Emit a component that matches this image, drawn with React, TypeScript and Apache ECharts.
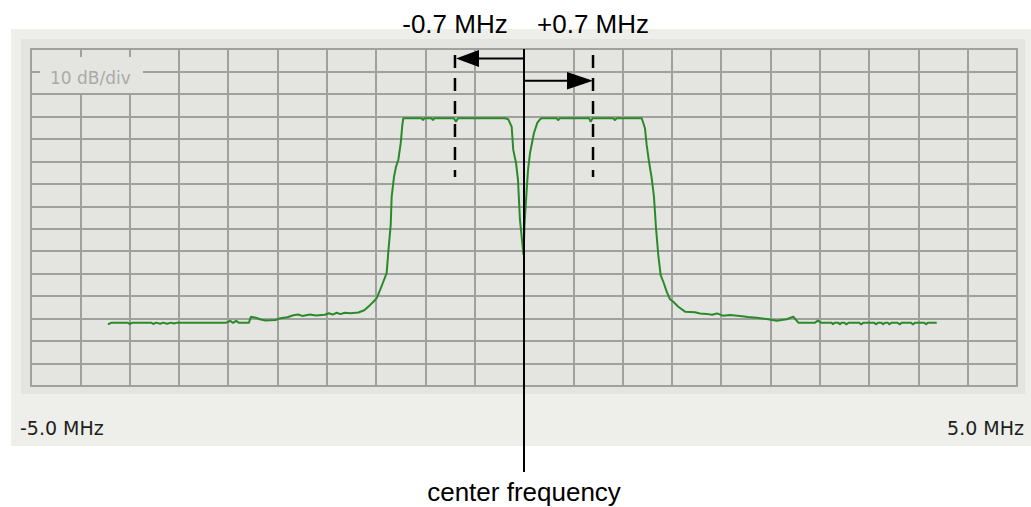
import React, { useEffect, useRef } from "react";
import * as echarts from "echarts";

// Spectrum trace (MHz offset from centre, dB)
const freqMHz = [
  -4.22, -4.18, -4.02, -4.0, -3.97, -3.78, -3.76, -3.73, -3.69, -3.66, -3.62, -3.58, -3.55, -3.52,
  -3.02, -2.98, -2.95, -2.92, -2.89, -2.79, -2.77, -2.72, -2.67, -2.62, -2.52, -2.47, -2.4, -2.34,
  -2.29, -2.25, -2.17, -2.11, -2.02, -1.98, -1.94, -1.9, -1.86, -1.82, -1.76, -1.68, -1.62, -1.56,
  -1.53, -1.494, -1.46, -1.427, -1.393, -1.376, -1.352, -1.342, -1.318, -1.298, -1.275, -1.25,
  -1.234, -1.224, -1.04, -1.024, -1.01, -0.94, -0.923, -0.91, -0.71, -0.69, -0.67, -0.45, -0.193,
  -0.159, -0.125, -0.109, -0.081, -0.061, -0.041, -0.013, -0.005, 0.005, 0.027, 0.041, 0.061, 0.101,
  0.135, 0.162, 0.183, 0.33, 0.348, 0.365, 0.66, 0.676, 0.695, 0.905, 0.923, 0.94, 1.194, 1.227,
  1.244, 1.268, 1.295, 1.318, 1.339, 1.362, 1.386, 1.413, 1.447, 1.481, 1.514, 1.565, 1.633, 1.734,
  1.785, 1.853, 1.907, 1.957, 2.018, 2.089, 2.191, 2.272, 2.36, 2.461, 2.563, 2.664, 2.731, 2.782,
  2.951, 2.982, 3.012, 3.12, 3.134, 3.15, 3.19, 3.202, 3.22, 3.25, 3.269, 3.29, 3.4, 3.421, 3.44,
  3.55, 3.573, 3.59, 3.625, 3.641, 3.66, 3.69, 3.708, 3.725, 3.79, 3.81, 3.83, 3.925, 3.945, 3.965,
  4.06, 4.077, 4.095, 4.186,
];
const levelDb = [
  -122.5, -121.8, -121.8, -122.4, -121.8, -121.8, -122.4, -121.8, -122.3, -121.8, -122.3, -121.8, -122.2, -121.8,
  -121.8, -121.0, -121.9, -121.0, -121.9, -121.9, -119.2, -119.6, -120.4, -120.8, -120.6, -119.8, -119.4, -118.5,
  -118.2, -118.8, -118.2, -118.6, -118.3, -117.6, -118.2, -117.4, -118.0, -117.4, -117.6, -117.3, -116.3, -113.9,
  -112.6, -110.9, -107.3, -103.6, -99.8, -90.2, -78.3, -65.7, -56.8, -52.4, -49.4, -41.8,
  -33.8, -30.8, -30.8, -31.7, -30.8, -30.8, -31.7, -30.8, -30.8, -32.4, -30.8, -30.8, -30.8,
  -31.3, -34.6, -44.9, -50.7, -58.3, -76.1, -88.1, -91.7, -78.3, -62.8, -53.8, -46.3, -37.4,
  -32.9, -31.3, -30.8, -30.8, -31.7, -30.8, -30.8, -32.4, -30.8, -30.8, -31.7, -30.8, -30.8, -35.3,
  -42.7, -50.2, -57.5, -65.7, -79.8, -91.7, -100.6, -103.6, -108.0, -111.4, -112.5, -114.7, -116.9, -117.2,
  -117.7, -117.9, -118.3, -117.7, -118.7, -118.4, -118.8, -119.3, -119.6, -120.2, -121.0, -120.3, -119.1, -121.8,
  -121.8, -120.9, -121.8, -121.8, -122.6, -121.8, -121.8, -122.6, -121.8, -121.8, -122.6, -121.8, -121.8, -122.6, -121.8,
  -121.8, -122.6, -121.8, -121.8, -122.6, -121.8, -121.8, -122.6, -121.8, -121.8, -122.6, -121.8, -121.8, -122.6, -121.8,
  -121.8, -122.6, -121.8, -121.8,
];

// Axis ranges
const xMin = -5;
const xMax = 5;
const xStep = 0.5;
const yMin = -150;
const yMax = 0;
const yStep = 10;

// Texts
const spanLabels = ["-5.0 MHz", "5.0 MHz"];
const scaleLabel = "10 dB/div";
const offsetMHz = 0.7;
const offsetLabels = ["-0.7 MHz", "+0.7 MHz"];
const centerMHz = 0;
const centerLabel = "center frequency";

const PANEL = "#eeeeea";
const INNER = "#e4e4e0";
const GRIDC = "#a0a09e";
const TRACE = "#2a8a2a";
const ARIAL = "Liberation Sans, Arial, sans-serif";
const TAHOMA = "DejaVu Sans, Verdana, sans-serif";

export default function App() {
  const ref = useRef<HTMLDivElement>(null);

  useEffect(() => {
    const chart = echarts.init(ref.current as HTMLDivElement, null, { renderer: "svg" });
    const data = freqMHz.map((f, i) => [f, levelDb[i]]);
    chart.setOption({
      animation: false,
      backgroundColor: "#ffffff",
      grid: {
        left: 31,
        top: 49,
        right: 14,
        bottom: 121,
        show: true,
        borderColor: GRIDC,
        borderWidth: 2,
        backgroundColor: "transparent",
        z: 1,
      },
      xAxis: {
        type: "value",
        min: xMin,
        max: xMax,
        interval: xStep,
        axisLine: { show: false },
        axisTick: { show: false },
        axisLabel: { show: false },
        splitLine: { show: true, lineStyle: { color: GRIDC, width: 2 } },
        z: 1,
      },
      yAxis: {
        type: "value",
        min: yMin,
        max: yMax,
        interval: yStep,
        axisLine: { show: false },
        axisTick: { show: false },
        axisLabel: { show: false },
        splitLine: { show: true, lineStyle: { color: GRIDC, width: 2 } },
        z: 1,
      },
      series: [
        {
          type: "line",
          data,
          showSymbol: false,
          lineStyle: { color: TRACE, width: 2 },
          z: 5,
        },
      ],
    });

    const px = (x: number, y: number) =>
      chart.convertToPixel({ gridIndex: 0 }, [x, y]) as number[];
    const [cx, gTop] = px(centerMHz, yMax);
    const [lx] = px(centerMHz - offsetMHz, yMax);
    const [rx] = px(centerMHz + offsetMHz, yMax);
    const [gL, gB] = px(xMin, yMin);
    const [gR] = px(xMax, yMin);

    const black = "#000000";
    chart.setOption({
      graphic: [
        { type: "rect", z: -100, shape: { x: gL - 20, y: gTop - 20, width: 1031 - (gL - 20), height: gB + 60 - (gTop - 20) }, style: { fill: PANEL } },
        { type: "rect", z: -99, shape: { x: gL - 10, y: gTop - 10, width: gR - gL + 18, height: gB - gTop + 18 }, style: { fill: INNER } },
        { type: "rect", z: 10, shape: { x: gL + 9, y: gTop + 8, width: 103, height: 36 }, style: { fill: INNER } },
        { type: "text", z: 11, x: gL + 19, y: gTop + 29, style: { text: scaleLabel, fill: "#aaaaaa", font: `17px ${TAHOMA}`, verticalAlign: "middle", align: "left" } },
        { type: "text", z: 11, x: gL - 11, y: gB + 41.5, style: { text: spanLabels[0], fill: "#1e1e1e", font: `19px ${TAHOMA}`, verticalAlign: "middle", align: "left" } },
        { type: "text", z: 11, x: gR + 7, y: gB + 41.5, style: { text: spanLabels[1], fill: "#1e1e1e", font: `19px ${TAHOMA}`, verticalAlign: "middle", align: "right" } },
        // centre line
        { type: "line", z: 20, shape: { x1: cx, y1: gTop, x2: cx, y2: 472 }, style: { stroke: black, lineWidth: 2 } },
        // dashed markers
        { type: "line", z: 20, shape: { x1: lx, y1: 55, x2: lx, y2: 177 }, style: { stroke: black, lineWidth: 2.5, lineDash: [13, 10] } },
        { type: "line", z: 20, shape: { x1: rx, y1: 55, x2: rx, y2: 177 }, style: { stroke: black, lineWidth: 2.5, lineDash: [13, 10] } },
        // left arrow
        { type: "line", z: 20, shape: { x1: cx, y1: 58.5, x2: lx + 22, y2: 58.5 }, style: { stroke: black, lineWidth: 2 } },
        { type: "polygon", z: 20, shape: { points: [[lx + 1, 58.5], [lx + 24, 50], [lx + 24, 67]] }, style: { fill: black } },
        // right arrow
        { type: "line", z: 20, shape: { x1: cx, y1: 80.7, x2: rx - 24, y2: 80.7 }, style: { stroke: black, lineWidth: 2 } },
        { type: "polygon", z: 20, shape: { points: [[rx, 80.7], [rx - 26, 72], [rx - 26, 89.5]] }, style: { fill: black } },
        // labels
        { type: "text", z: 20, x: lx, y: 24, style: { text: offsetLabels[0], fill: black, font: `26px ${ARIAL}`, align: "center", verticalAlign: "middle" } },
        { type: "text", z: 20, x: rx, y: 24, style: { text: offsetLabels[1], fill: black, font: `26px ${ARIAL}`, align: "center", verticalAlign: "middle" } },
        { type: "text", z: 20, x: cx, y: 492, style: { text: centerLabel, fill: black, font: `26px ${ARIAL}`, align: "center", verticalAlign: "middle" } },
      ],
    });

    return () => chart.dispose();
  }, []);

  return (
    <div
      ref={ref}
      style={{ position: "fixed", left: 0, top: 0, width: 1031, height: 507 }}
    />
  );
}
